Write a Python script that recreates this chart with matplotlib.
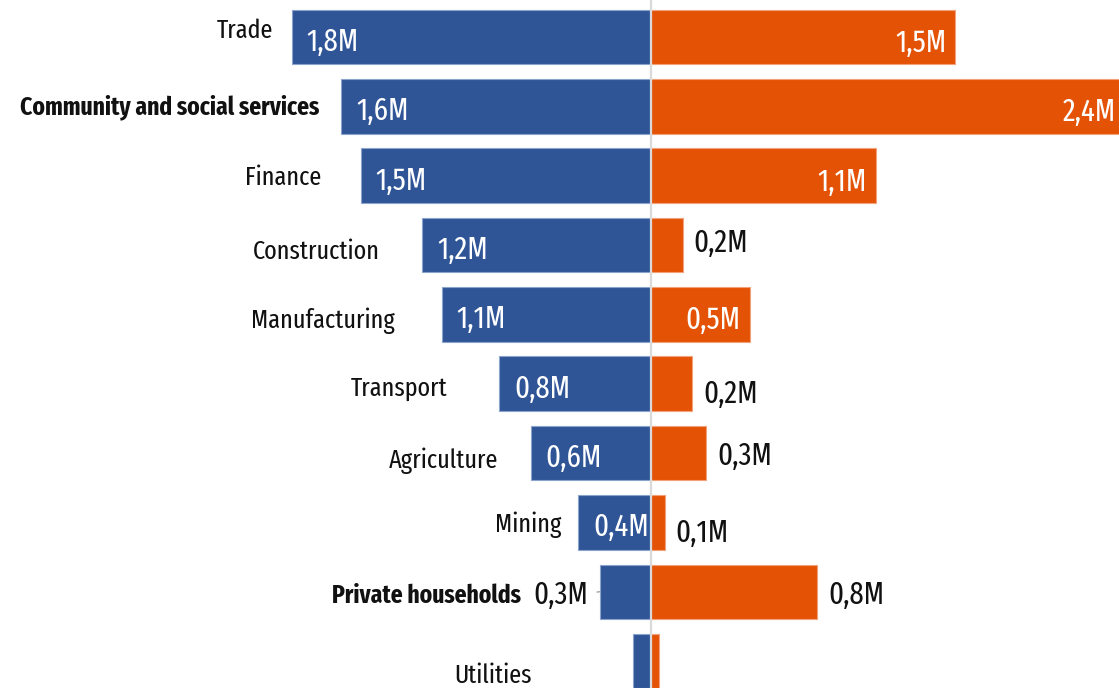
import matplotlib
matplotlib.use("Agg")
import matplotlib.pyplot as plt
from matplotlib import font_manager
from matplotlib.font_manager import FontProperties
from matplotlib.textpath import TextPath

# Employed people by industry, in millions
categories = ["Trade", "Community and social services", "Finance", "Construction",
              "Manufacturing", "Transport", "Agriculture", "Mining",
              "Private households", "Utilities"]
men_millions = [1.82, 1.57, 1.47, 1.16, 1.06, 0.77, 0.61, 0.37, 0.26, 0.09]
women_millions = [1.54, 2.40, 1.14, 0.16, 0.50, 0.21, 0.28, 0.07, 0.84, 0.04]
highlighted = ["Community and social services", "Private households"]

# Where each value label sits: inside the bar, outside it, or not shown
men_label_pos = ["in", "in", "in", "in", "in", "in", "in", "in", "out", None]
women_label_pos = ["in", "in", "in", "out", "in", "out", "out", "out", "out", None]
# Category label: gap to the bar start and baseline shift below the row centre (px)
cat_gap = [18, 22, 39, 42, 47, 51, 32, 16, 79, 101]
cat_dy = [1, 8.5, 9, 14, 14, 12, 15, 10, 11, 22]
# Baseline shift of the outside value labels on the right (px)
women_out_dy = [15, 15, 15, 7, 14, 19, 12, 20, 12, 15]

BLUE = "#2F5597"
ORANGE = "#E35205"
BLUE_EDGE = "#8CA3CC"
ORANGE_EDGE = "#F2A27A"

names = {f.name for f in font_manager.fontManager.ttflist}
preferred = ["Fira Sans Extra Condensed", "Fira Sans Condensed",
             "Sofia Sans Extra Condensed", "Roboto Condensed"]
FAMILY = next((n for n in preferred if n in names), "DejaVu Sans")


def fitted_size(sample, target_w, target_cap, weight="normal"):
    """Font size (pt) balancing a target ink width and cap height in pixels."""
    prop = FontProperties(family=FAMILY, weight=weight)
    w = TextPath((0, 0), sample, size=100, prop=prop).get_extents().width / 100
    c = TextPath((0, 0), "H", size=100, prop=prop).get_extents().height / 100
    em_px = ((target_w / w) * (target_cap / c)) ** 0.5
    return em_px * 72 / 100


VALUE_SIZE = fitted_size("1,8M", 49, 22)
CAT_SIZE = fitted_size("Manufacturing", 132, 19.5)
BOLD_SIZE = fitted_size("Private households", 180, 18.5, "bold")

fig = plt.figure(figsize=(11.19, 6.88), dpi=100)
ax = fig.add_axes([0, 0, 1, 1])
ax.set_axis_off()

rows = list(range(len(categories)))
bar_h = 0.786
ax.barh(rows, [-v for v in men_millions], height=bar_h, color=BLUE,
        edgecolor=BLUE_EDGE, linewidth=0.8, zorder=2)
ax.barh(rows, women_millions, height=bar_h, color=ORANGE,
        edgecolor=ORANGE_EDGE, linewidth=0.8, zorder=2)
ax.axvline(0, color="#DADADA", lw=1.6, zorder=3)

ax.set_xlim(-651 / 197.5, 468 / 197.5)
ax.set_ylim((688 - 37) / 69.35, -37 / 69.35)


def fmt(v):
    return f"{v:.1f}".replace(".", ",") + "M"


def put(text, x, y, dx, dy, ha, color, size, weight="normal", **kw):
    return ax.annotate(text, xy=(x, y), xytext=(dx, -dy), textcoords="offset pixels",
                       ha=ha, va="baseline", color=color, fontsize=size,
                       family=FAMILY, fontweight=weight,
                       zorder=4, annotation_clip=False, **kw)


for i, cat in enumerate(categories):
    m = men_millions[i]
    w = women_millions[i]
    bold = cat in highlighted
    put(cat, -m, i, -cat_gap[i], cat_dy[i], "right", "#111111",
        BOLD_SIZE if bold else CAT_SIZE, "bold" if bold else "normal")

    if men_label_pos[i] == "in":
        put(fmt(m), -m, i, 15, 14, "left", "white", VALUE_SIZE)
    elif men_label_pos[i] == "out":
        put(fmt(m), -m, i, -11, 12, "right", "#111111", VALUE_SIZE,
            arrowprops=dict(arrowstyle="-", color="#8A8A8A", lw=0.8,
                            shrinkA=4, shrinkB=0))

    if women_label_pos[i] == "in":
        put(fmt(w), w, i, -9, 15, "right", "white", VALUE_SIZE)
    elif women_label_pos[i] == "out":
        put(fmt(w), w, i, 11, women_out_dy[i], "left", "#111111", VALUE_SIZE)

fig.savefig("out.png", dpi=100)
